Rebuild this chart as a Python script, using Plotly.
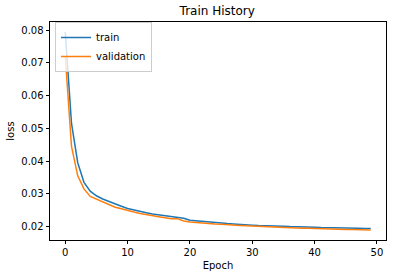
import plotly.graph_objects as go

epochs = list(range(50))
train_loss = [0.0795, 0.0515, 0.0395, 0.0335, 0.0308, 0.0294, 0.0284, 0.0276, 0.0268, 0.0262,
              0.0255, 0.0250, 0.0246, 0.0242, 0.0238, 0.0235, 0.0232, 0.0229, 0.0226, 0.0225,
              0.0219, 0.0217, 0.0216, 0.0213, 0.0212, 0.0211, 0.0209, 0.0208, 0.0206, 0.0206,
              0.0204, 0.0203, 0.0203, 0.0202, 0.0201, 0.0201, 0.0200, 0.0200, 0.0199, 0.0198,
              0.0198, 0.0197, 0.0197, 0.0197, 0.0196, 0.0195, 0.0195, 0.0195, 0.0194, 0.0194]
val_loss = [0.0720, 0.0445, 0.0355, 0.0315, 0.0292, 0.0284, 0.0275, 0.0268, 0.0259, 0.0254,
            0.0248, 0.0244, 0.0240, 0.0236, 0.0233, 0.0230, 0.0227, 0.0224, 0.0224, 0.0217,
            0.0214, 0.0212, 0.0211, 0.0209, 0.0208, 0.0207, 0.0205, 0.0204, 0.0203, 0.0202,
            0.0201, 0.0200, 0.0199, 0.0199, 0.0198, 0.0197, 0.0197, 0.0196, 0.0195, 0.0195,
            0.0194, 0.0193, 0.0193, 0.0193, 0.0192, 0.0191, 0.0191, 0.0190, 0.0190, 0.0189]
x_ticks = [0, 10, 20, 30, 40, 50]
y_ticks = [0.02, 0.03, 0.04, 0.05, 0.06, 0.07, 0.08]

font = "DejaVu Sans"
fig = go.Figure()
fig.add_trace(go.Scatter(x=epochs, y=train_loss, mode="lines", name="train",
                         line=dict(color="#1f77b4", width=1.5)))
fig.add_trace(go.Scatter(x=epochs, y=val_loss, mode="lines", name="validation",
                         line=dict(color="#ff7f0e", width=1.5)))

fig.update_layout(
    width=395, height=278,
    margin=dict(l=50, r=9, t=22, b=38),
    paper_bgcolor="white", plot_bgcolor="white",
    font=dict(family=font, size=10, color="black"),
    title=dict(text="Train History", x=0.55, xanchor="center", y=0.962, yanchor="middle",
               font=dict(size=12, family=font, color="black")),
    showlegend=True,
    legend=dict(x=0.015, y=1.0, xanchor="left", yanchor="top",
                bgcolor="rgba(255,255,255,0.8)", bordercolor="#cccccc", borderwidth=1,
                font=dict(size=10, family=font), tracegroupgap=0, itemwidth=30),
)
fig.update_xaxes(range=[-2.45, 51.45], tickvals=x_ticks, ticks="outside", ticklen=3.5,
                 tickwidth=0.8, tickcolor="black", showline=True, linecolor="black",
                 linewidth=0.8, mirror=True, showgrid=False, zeroline=False,
                 title=dict(text="Epoch", standoff=4, font=dict(size=10)))
fig.update_yaxes(range=[0.01587, 0.08253], tickvals=y_ticks, tickformat=".2f", ticks="outside",
                 ticklen=3.5, tickwidth=0.8, tickcolor="black", showline=True, linecolor="black",
                 linewidth=0.8, mirror=True, showgrid=False, zeroline=False,
                 title=dict(text="loss", standoff=4, font=dict(size=10)))

fig.write_html("out.html")
